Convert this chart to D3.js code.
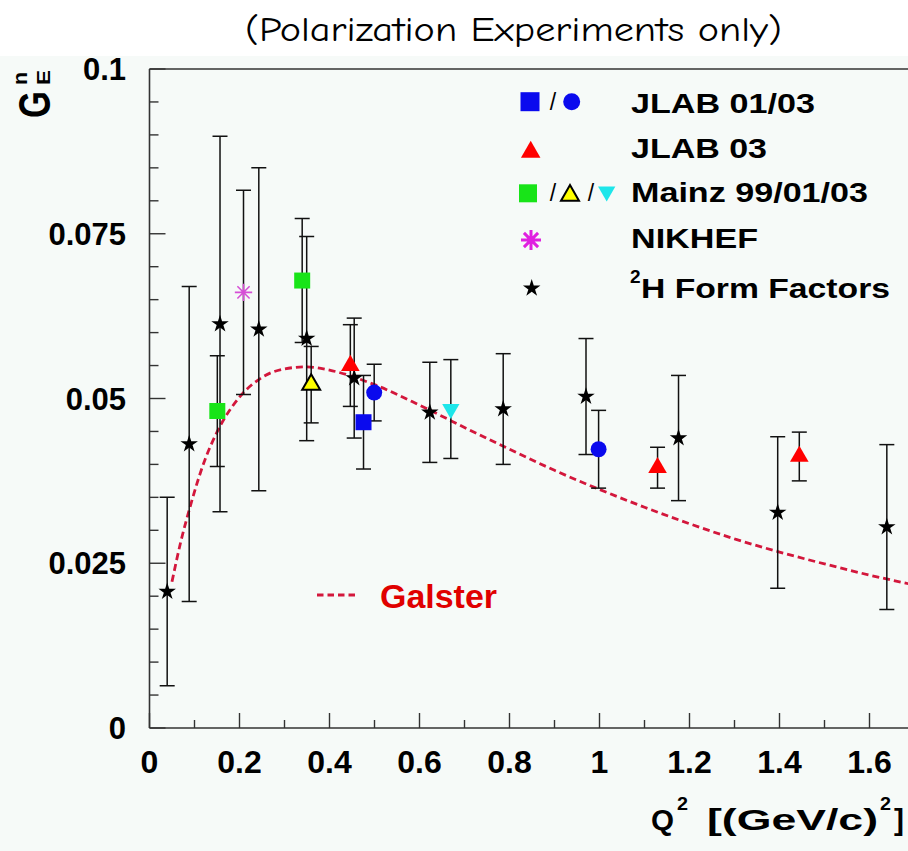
<!DOCTYPE html>
<html>
<head>
<meta charset="utf-8">
<script src="https://cdn.jsdelivr.net/npm/d3@7"></script>
<style>
  html, body { margin: 0; padding: 0; background: #ffffff; }
  svg { display: block; }
  text { font-family: "Liberation Sans", Arial, Helvetica, sans-serif; }
</style>
</head>
<body>
<svg id="chart" width="908" height="851"></svg>
<script>
// ---- data: neutron electric form factor G_E^n vs Q^2 ----
const xTicksMajor = [0, 0.2, 0.4, 0.6, 0.8, 1, 1.2, 1.4, 1.6];
const xTickLabels = ["0", "0.2", "0.4", "0.6", "0.8", "1", "1.2", "1.4", "1.6"];
const yTicksMajor = [0, 0.025, 0.05, 0.075, 0.1];
const yTickLabels = ["0", "0.025", "0.05", "0.075", "0.1"];

// JLAB 01/03 (squares / circles)
const jlabSqQ2 = [0.4756];
const jlabSqGE = [0.0464];
const jlabSqErr = [0.0071];
const jlabCircQ2 = [0.4993, 0.998];
const jlabCircGE = [0.0509, 0.0423];
const jlabCircErr = [0.0043, 0.0059];

// JLAB 03 (triangles)
const jlab03Q2 = [0.4463, 1.129, 1.444];
const jlab03GE = [0.0550, 0.0395, 0.0412];
const jlab03Err = [0.0062, 0.0031, 0.0037];

// Mainz 99 / 01 / 03
const mainz99Q2 = [0.1507, 0.3393];
const mainz99GE = [0.0481, 0.0679];
const mainz99Err = [0.0084, 0.0094];
const mainz01Q2 = [0.3593];
const mainz01GE = [0.0521];
const mainz01Err = [0.0058];
const mainz03Q2 = [0.6696];
const mainz03GE = [0.0484];
const mainz03Err = [0.0075];

// NIKHEF
const nikhefQ2 = [0.2089];
const nikhefGE = [0.0661];
const nikhefErr = [0.0155];

// 2H form factor analysis
const h2Q2 = [0.0393, 0.0882, 0.1567, 0.2429, 0.3493, 0.4549, 0.6229, 0.786, 0.970, 1.1756, 1.396, 1.6385];
const h2GE = [0.0207, 0.0431, 0.0613, 0.0605, 0.0591, 0.0531, 0.0479, 0.0484, 0.0503, 0.0440, 0.0327, 0.0305];
const h2Err = [0.0143, 0.0239, 0.0285, 0.0245, 0.0155, 0.0091, 0.0076, 0.0084, 0.0088, 0.0095, 0.0115, 0.0125];

// Galster parametrisation, sampled
const galsterQ2 = [0.05, 0.07, 0.09, 0.12, 0.15, 0.2, 0.25, 0.3, 0.35, 0.4, 0.5, 0.6, 0.7, 0.8, 0.9, 1.0, 1.1, 1.2, 1.3, 1.4, 1.5, 1.6, 1.7];
const galsterGE = [0.0222, 0.0284, 0.0335, 0.0401, 0.0449, 0.0502, 0.0532, 0.0545, 0.0548, 0.0543, 0.0521, 0.0490, 0.0456, 0.0423, 0.0391, 0.0362, 0.0335, 0.0310, 0.0287, 0.0267, 0.0249, 0.0232, 0.0217];

// ---- layout ----
const svg = d3.select("#chart");
const W = 908, H = 851;
const x = d3.scaleLinear().domain([0, 1.7]).range([149.5, 914.5]);
const y = d3.scaleLinear().domain([0, 0.1]).range([728, 69]);

svg.append("rect").attr("x", 0).attr("y", 0).attr("width", W).attr("height", H).attr("fill", "#ffffff");
svg.append("rect").attr("x", 0).attr("y", 56).attr("width", W).attr("height", H - 56).attr("fill", "#f6faf8");

// title
svg.append("text")
  .attr("x", 245).attr("y", 41)
  .attr("textLength", 537).attr("lengthAdjust", "spacingAndGlyphs")
  .style("font-family", "'Comic Sans MS', 'Comic Neue', 'DejaVu Sans', sans-serif")
  .style("font-size", "34px").attr("fill", "#000")
  .text("(Polarization Experiments only)");

const defs = svg.append("defs");
defs.append("clipPath").attr("id", "plotclip")
  .append("rect").attr("x", 149.5).attr("y", 60).attr("width", 770).attr("height", 668.5);

// ---- axes & frame ----
const axisColor = "#333";
const axes = svg.append("g");
axes.append("line").attr("x1", x(0)).attr("x2", W).attr("y1", y(0)).attr("y2", y(0))
  .attr("stroke", axisColor).attr("stroke-width", 1.6);
axes.append("line").attr("x1", x(0)).attr("x2", x(0)).attr("y1", y(0)).attr("y2", y(0.1))
  .attr("stroke", axisColor).attr("stroke-width", 1.6);
axes.append("line").attr("x1", x(0)).attr("x2", W).attr("y1", y(0.1)).attr("y2", y(0.1))
  .attr("stroke", axisColor).attr("stroke-width", 1.6);

// x ticks (major 0.2, minor 0.1), pointing into the frame
const xMinor = d3.range(0, 17).map(i => i * 0.1);
axes.selectAll(".xt").data(xMinor).join("line")
  .attr("x1", d => x(d)).attr("x2", d => x(d))
  .attr("y1", y(0)).attr("y2", (d, i) => y(0) - (i % 2 === 0 ? 15 : 8))
  .attr("stroke", axisColor).attr("stroke-width", 1.4);
// y ticks (major 0.025, minor 0.005)
const yMinor = d3.range(0, 21).map(i => i * 0.005);
axes.selectAll(".yt").data(yMinor).join("line")
  .attr("x1", x(0)).attr("x2", (d, i) => x(0) + (i % 5 === 0 ? 16 : 9))
  .attr("y1", d => y(d)).attr("y2", d => y(d))
  .attr("stroke", axisColor).attr("stroke-width", 1.4);

axes.selectAll(".xl").data(xTicksMajor).join("text")
  .attr("x", d => x(d)).attr("y", 773)
  .attr("text-anchor", "middle")
  .style("font-size", "32px").style("font-weight", "bold").attr("fill", "#000")
  .text((d, i) => xTickLabels[i]);
axes.selectAll(".yl").data(yTicksMajor).join("text")
  .attr("x", 126).attr("y", d => y(d) + 11)
  .attr("text-anchor", "end")
  .style("font-size", "31px").style("font-weight", "bold").attr("fill", "#000")
  .text((d, i) => yTickLabels[i]);

// x-axis title: Q^2 [(GeV/c)^2]
function boldText(txt, x0, base, size, len) {
  const t = svg.append("text").attr("x", x0).attr("y", base)
    .style("font-size", size + "px").style("font-weight", "bold").attr("fill", "#000").text(txt);
  if (len) t.attr("textLength", len).attr("lengthAdjust", "spacingAndGlyphs");
  return t;
}
boldText("Q", 651, 830, 29, 23);
boldText("2", 677, 810, 18, 11);
boldText("[(GeV/c)", 707, 830, 29, 171);
boldText("2", 880, 810, 18, 11);
boldText("]", 894, 830, 29, 10);

// y-axis title G_E^n (rotated)
const yt = svg.append("g").attr("transform", "translate(50,118) rotate(-90)");
yt.append("text").attr("x", 0).attr("y", 0)
  .attr("textLength", 27).attr("lengthAdjust", "spacingAndGlyphs")
  .style("font-size", "44px").style("font-weight", "bold").attr("fill", "#000").text("G");
yt.append("text").attr("x", 33).attr("y", 0)
  .attr("textLength", 15).attr("lengthAdjust", "spacingAndGlyphs")
  .style("font-size", "19px").style("font-weight", "bold").attr("fill", "#000").text("E");
yt.append("text").attr("x", 33).attr("y", -23)
  .attr("textLength", 13).attr("lengthAdjust", "spacingAndGlyphs")
  .style("font-size", "20px").style("font-weight", "bold").attr("fill", "#000").text("n");

// ---- plot content ----
const plot = svg.append("g").attr("clip-path", "url(#plotclip)");

const galsterColor = "#d3173c";
const line = d3.line().x(d => x(d[0])).y(d => y(d[1])).curve(d3.curveMonotoneX);
plot.append("path")
  .datum(galsterQ2.map((q, i) => [q, galsterGE[i]]))
  .attr("d", line).attr("fill", "none")
  .attr("stroke", galsterColor).attr("stroke-width", 2.8).attr("stroke-dasharray", "7,4");

// asterisk marker shape
const symbolAsterisk = {
  draw(ctx, size) {
    const r = Math.sqrt(size) / 2;
    for (let k = 0; k < 4; k++) {
      const a = k * Math.PI / 4;
      ctx.moveTo(-r * Math.cos(a), -r * Math.sin(a));
      ctx.lineTo(r * Math.cos(a), r * Math.sin(a));
    }
  }
};

function zip(q, g, e) { return q.map((v, i) => ({ q: v, g: g[i], e: e[i] })); }

const series = [
  { pts: zip(h2Q2, h2GE, h2Err), type: d3.symbolStar, size: 95, fill: "#000", stroke: "none" },
  { pts: zip(mainz99Q2, mainz99GE, mainz99Err), type: d3.symbolSquare, size: 256, fill: "#18e418", stroke: "none" },
  { pts: zip(mainz01Q2, mainz01GE, mainz01Err), type: d3.symbolTriangle, size: 140, fill: "#ffff00", stroke: "#000", sw: 2 },
  { pts: zip(mainz03Q2, mainz03GE, mainz03Err), type: d3.symbolTriangle, size: 130, fill: "#1ee6ea", stroke: "none", flip: true },
  { pts: zip(nikhefQ2, nikhefGE, nikhefErr), type: symbolAsterisk, size: 300, fill: "none", stroke: "#d64fd6", sw: 1.6 },
  { pts: zip(jlab03Q2, jlab03GE, jlab03Err), type: d3.symbolTriangle, size: 150, fill: "#ff0000", stroke: "none" },
  { pts: zip(jlabSqQ2, jlabSqGE, jlabSqErr), type: d3.symbolSquare, size: 256, fill: "#0a0aee", stroke: "none" },
  { pts: zip(jlabCircQ2, jlabCircGE, jlabCircErr), type: d3.symbolCircle, size: 200, fill: "#0a0aee", stroke: "none" }
];

// error bars first
const capW = 7.5;
const eb = plot.append("g").attr("stroke", "#111").attr("stroke-width", 1.5);
series.forEach(s => {
  s.pts.forEach(p => {
    const cx = x(p.q);
    eb.append("line").attr("x1", cx).attr("x2", cx).attr("y1", y(p.g - p.e)).attr("y2", y(p.g + p.e));
    eb.append("line").attr("x1", cx - capW).attr("x2", cx + capW).attr("y1", y(p.g + p.e)).attr("y2", y(p.g + p.e));
    eb.append("line").attr("x1", cx - capW).attr("x2", cx + capW).attr("y1", y(p.g - p.e)).attr("y2", y(p.g - p.e));
  });
});

// markers
series.forEach(s => {
  plot.append("g").selectAll("path").data(s.pts).join("path")
    .attr("d", d3.symbol().type(s.type).size(s.size)())
    .attr("transform", d => `translate(${x(d.q)},${y(d.g)})` + (s.flip ? " rotate(180)" : ""))
    .attr("fill", s.fill).attr("stroke", s.stroke).attr("stroke-width", s.sw || 0);
});

// ---- legend ----
const leg = svg.append("g");
function legSym(type, size, cx, cy, fill, stroke, sw, flip) {
  leg.append("path").attr("d", d3.symbol().type(type).size(size)())
    .attr("transform", `translate(${cx},${cy})` + (flip ? " rotate(180)" : ""))
    .attr("fill", fill).attr("stroke", stroke || "none").attr("stroke-width", sw || 0);
}
function slash(cx, cy) {
  leg.append("text").attr("x", cx).attr("y", cy + 8).attr("text-anchor", "middle")
    .style("font-size", "23px").attr("fill", "#000").text("/");
}
function legText(txt, x0, base, len) {
  return leg.append("text").attr("x", x0).attr("y", base)
    .attr("textLength", len).attr("lengthAdjust", "spacingAndGlyphs")
    .style("font-size", "28px").style("font-weight", "bold").attr("fill", "#000").text(txt);
}

legSym(d3.symbolSquare, 361, 530, 101.7, "#0a0aee");
slash(553, 101.7);
legSym(d3.symbolCircle, 227, 571.7, 101.7, "#0a0aee");
legText("JLAB 01/03", 631, 113.3, 184);

legSym(d3.symbolTriangle, 165, 530.7, 152, "#ff0000");
legText("JLAB 03", 631, 158.3, 136);

legSym(d3.symbolSquare, 324, 528, 193.3, "#18e418");
slash(553, 193.3);
legSym(d3.symbolTriangle, 140, 570, 195.5, "#ffff00", "#000", 2);
slash(591, 193.3);
legSym(d3.symbolTriangle, 130, 606.7, 191.5, "#1ee6ea", null, 0, true);
legText("Mainz 99/01/03", 631, 201.7, 237);

legSym(symbolAsterisk, 400, 531, 240, "none", "#e020e0", 3);
legText("NIKHEF", 631, 248.3, 127);

legSym(d3.symbolStar, 95, 531.7, 288.3, "#000");
leg.append("text").attr("x", 630).attr("y", 283)
  .style("font-size", "19px").style("font-weight", "bold").attr("fill", "#000").text("2");
legText("H Form Factors", 641, 298.3, 249);

// Galster legend entry
leg.append("line").attr("x1", 317).attr("x2", 356).attr("y1", 595).attr("y2", 595)
  .attr("stroke", galsterColor).attr("stroke-width", 2.8).attr("stroke-dasharray", "6.5,4");
leg.append("text").attr("x", 380).attr("y", 608)
  .attr("textLength", 117).attr("lengthAdjust", "spacingAndGlyphs")
  .style("font-size", "33px").style("font-weight", "bold").attr("fill", "#e00000").text("Galster");
</script>
</body>
</html>
